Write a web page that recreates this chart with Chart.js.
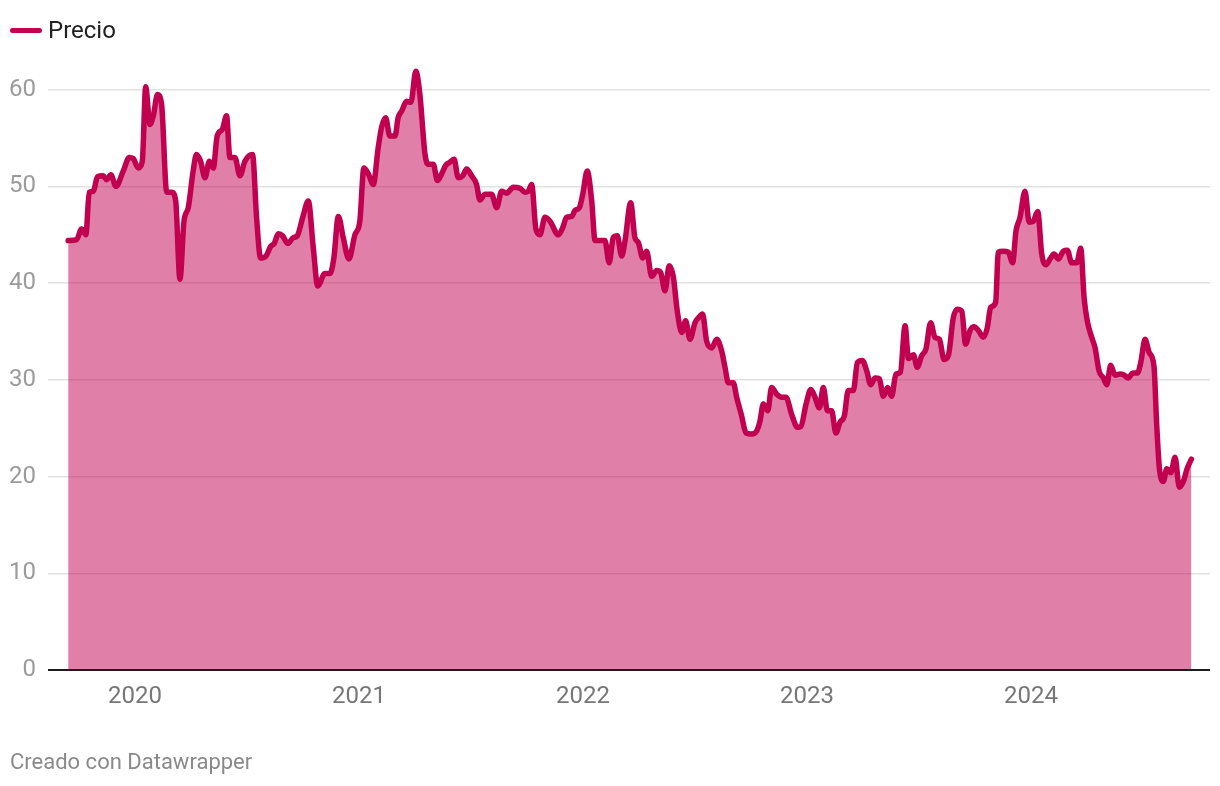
<!DOCTYPE html>
<html>
<head>
<meta charset="utf-8">
<script src="https://cdn.jsdelivr.net/npm/chart.js@4.4.1/dist/chart.umd.min.js"></script>
<style>
  html, body { margin: 0; padding: 0; background: #fff; }
  body { width: 1220px; height: 786px; position: relative; overflow: hidden; font-family: Roboto, "Noto Sans", sans-serif; }
  #wrap { position: absolute; left: 0; top: 0; width: 1220px; height: 786px; }
  #legend { position: absolute; left: 10px; top: 17px; height: 26px; display: flex; align-items: center; }
  #legend .sw { width: 32px; height: 5px; border-radius: 3px; background: rgb(193,0,79); margin-right: 6px; }
  #legend .tx { font-size: 24px; color: #222; line-height: 26px; }
  #footer { position: absolute; left: 10px; top: 749px; font-size: 22px; color: #8a8a8a; line-height: 26px; }
</style>
</head>
<body>
<div id="wrap"><canvas id="c" width="1220" height="786"></canvas></div>
<div id="legend"><span class="sw"></span><span class="tx">Precio</span></div>
<div id="footer">Creado con Datawrapper</div>
<script>
// Fechas (años decimales) y precios
const fechas = [
  2019.702, 2019.740, 2019.762, 2019.781, 2019.796, 2019.814, 2019.833, 2019.858, 2019.874, 2019.893,
  2019.915, 2019.948, 2019.975, 2019.992, 2020.015, 2020.033, 2020.048, 2020.067, 2020.082, 2020.101,
  2020.119, 2020.142, 2020.164, 2020.182, 2020.201, 2020.219, 2020.238, 2020.260, 2020.275, 2020.293,
  2020.313, 2020.332, 2020.350, 2020.367, 2020.390, 2020.409, 2020.424, 2020.446, 2020.469, 2020.491,
  2020.525, 2020.543, 2020.561, 2020.585, 2020.606, 2020.622, 2020.640, 2020.659, 2020.682, 2020.707,
  2020.725, 2020.749, 2020.774, 2020.796, 2020.816, 2020.848, 2020.871, 2020.888, 2020.908, 2020.930,
  2020.955, 2020.982, 2021.004, 2021.022, 2021.042, 2021.064, 2021.086, 2021.101, 2021.119, 2021.138,
  2021.161, 2021.175, 2021.191, 2021.213, 2021.232, 2021.254, 2021.272, 2021.295, 2021.309, 2021.332,
  2021.350, 2021.369, 2021.388, 2021.406, 2021.425, 2021.443, 2021.463, 2021.481, 2021.503, 2021.525,
  2021.540, 2021.563, 2021.592, 2021.615, 2021.637, 2021.659, 2021.689, 2021.719, 2021.741, 2021.756,
  2021.771, 2021.790, 2021.808, 2021.830, 2021.853, 2021.890, 2021.909, 2021.927, 2021.950, 2021.964,
  2021.984, 2021.999, 2022.019, 2022.039, 2022.054, 2022.076, 2022.098, 2022.117, 2022.135, 2022.153,
  2022.173, 2022.188, 2022.213, 2022.232, 2022.247, 2022.267, 2022.284, 2022.307, 2022.329, 2022.347,
  2022.366, 2022.385, 2022.403, 2022.421, 2022.441, 2022.458, 2022.478, 2022.500, 2022.515, 2022.534,
  2022.552, 2022.575, 2022.597, 2022.619, 2022.634, 2022.649, 2022.671, 2022.686, 2022.708, 2022.728,
  2022.753, 2022.775, 2022.790, 2022.805, 2022.825, 2022.842, 2022.865, 2022.887, 2022.906, 2022.932,
  2022.957, 2022.973, 2022.996, 2023.017, 2023.036, 2023.055, 2023.073, 2023.091, 2023.110, 2023.129,
  2023.147, 2023.167, 2023.184, 2023.207, 2023.225, 2023.247, 2023.267, 2023.284, 2023.304, 2023.323,
  2023.341, 2023.360, 2023.378, 2023.397, 2023.417, 2023.438, 2023.453, 2023.475, 2023.492, 2023.512,
  2023.531, 2023.552, 2023.571, 2023.591, 2023.612, 2023.631, 2023.653, 2023.671, 2023.691, 2023.708,
  2023.728, 2023.746, 2023.765, 2023.787, 2023.805, 2023.820, 2023.842, 2023.854, 2023.876, 2023.899,
  2023.918, 2023.933, 2023.951, 2023.973, 2023.992, 2024.010, 2024.030, 2024.048, 2024.067, 2024.085,
  2024.103, 2024.122, 2024.144, 2024.162, 2024.182, 2024.204, 2024.222, 2024.237, 2024.251, 2024.271,
  2024.286, 2024.304, 2024.323, 2024.338, 2024.356, 2024.375, 2024.397, 2024.415, 2024.434, 2024.454,
  2024.475, 2024.490, 2024.509, 2024.528, 2024.549, 2024.561, 2024.573, 2024.591, 2024.606, 2024.624,
  2024.643, 2024.662, 2024.680, 2024.698, 2024.716
];
const precios = [
  44.4, 44.5, 45.6, 45.0, 49.4, 49.5, 51.0, 51.1, 50.7, 51.2,
  50.0, 51.6, 53.0, 52.9, 51.9, 52.6, 60.3, 56.4, 57.3, 59.5,
  58.5, 49.4, 49.4, 48.5, 40.4, 46.4, 47.8, 51.6, 53.3, 52.6,
  50.9, 52.6, 51.9, 55.2, 55.9, 57.3, 53.0, 53.0, 51.1, 52.6,
  53.3, 46.8, 42.6, 42.8, 43.8, 44.1, 45.1, 44.9, 44.1, 44.7,
  44.9, 46.8, 48.5, 43.7, 39.7, 41.0, 41.0, 42.6, 46.9, 44.7,
  42.5, 45.0, 46.4, 51.9, 51.3, 50.2, 54.0, 56.1, 57.1, 55.2,
  55.2, 57.1, 57.8, 58.8, 58.7, 61.9, 59.5, 53.3, 52.3, 52.3,
  50.6, 51.3, 52.2, 52.5, 52.8, 50.9, 51.1, 51.8, 51.1, 50.2,
  48.6, 49.2, 49.2, 47.8, 49.5, 49.3, 49.9, 49.8, 49.4, 49.5,
  50.2, 45.6, 45.0, 46.8, 46.4, 45.0, 45.7, 46.8, 46.9, 47.5,
  47.8, 49.2, 51.6, 48.5, 44.4, 44.4, 44.4, 42.1, 44.7, 44.9,
  42.8, 44.4, 48.3, 44.7, 44.2, 42.6, 43.3, 40.7, 41.3, 41.1,
  39.2, 41.8, 40.7, 37.1, 34.9, 36.1, 34.2, 35.9, 36.4, 36.8,
  34.0, 33.3, 34.2, 33.0, 31.3, 29.7, 29.7, 28.2, 26.3, 24.5,
  24.4, 24.7, 25.7, 27.5, 26.8, 29.2, 28.5, 28.2, 28.2, 26.4,
  25.1, 25.2, 27.5, 29.0, 28.2, 27.1, 29.2, 26.8, 26.8, 24.5,
  25.6, 26.3, 28.9, 28.9, 31.8, 32.0, 30.9, 29.5, 30.2, 30.1,
  28.3, 29.2, 28.3, 30.6, 30.8, 35.6, 32.2, 32.6, 31.3, 32.5,
  33.2, 35.9, 34.4, 34.2, 32.1, 32.5, 36.4, 37.3, 37.1, 33.7,
  35.1, 35.5, 35.1, 34.4, 35.4, 37.5, 38.0, 43.2, 43.3, 43.2,
  42.1, 45.4, 46.8, 49.5, 46.3, 46.4, 47.4, 43.0, 41.9, 42.5,
  43.0, 42.5, 43.3, 43.4, 42.1, 42.1, 43.6, 38.5, 36.1, 34.4,
  33.3, 30.9, 30.2, 29.5, 31.5, 30.5, 30.6, 30.5, 30.2, 30.7,
  30.7, 31.8, 34.2, 32.8, 31.4, 25.4, 20.9, 19.5, 20.8, 20.4,
  22.0, 18.9, 19.5, 20.9, 21.8
];
const yTicks = [0, 10, 20, 30, 40, 50, 60];
const xTicks = [2020, 2021, 2022, 2023, 2024];
const xLabels = ["2020", "2021", "2022", "2023", "2024"];

const lineColor = 'rgb(193,0,79)';
const fillColor = 'rgba(193,0,79,0.5)';

const points = fechas.map((f, i) => ({ x: f, y: precios[i] }));

const baseline = {
  id: 'baseline',
  afterDatasetsDraw(chart) {
    const { ctx, chartArea, scales } = chart;
    const y0 = scales.y.getPixelForValue(0);
    ctx.save();
    ctx.strokeStyle = '#1d1d1d';
    ctx.lineWidth = 2;
    ctx.beginPath();
    ctx.moveTo(chartArea.left, y0);
    ctx.lineTo(chartArea.right, y0);
    ctx.stroke();
    ctx.restore();
  }
};

new Chart(document.getElementById('c'), {
  type: 'line',
  data: {
    datasets: [{
      label: 'Precio',
      data: points,
      borderColor: lineColor,
      backgroundColor: fillColor,
      borderWidth: 5.5,
      fill: 'origin',
      pointRadius: 0,
      cubicInterpolationMode: 'monotone',
      borderJoinStyle: 'round',
      borderCapStyle: 'round'
    }]
  },
  options: {
    responsive: false,
    animation: false,
    events: [],
    layout: { padding: { top: 51, left: 0, right: 10, bottom: 0 } },
    plugins: { legend: { display: false }, tooltip: { enabled: false } },
    scales: {
      x: {
        type: 'linear',
        min: 2019.612,
        max: 2024.799,
        grid: { display: false, drawTicks: false },
        border: { display: false },
        afterBuildTicks: (s) => { s.ticks = xTicks.map(v => ({ value: v })); },
        afterFit: (s) => { s.height = 116; },
        ticks: {
          padding: 13,
          autoSkip: false,
          maxRotation: 0,
          color: '#777',
          font: { family: 'Roboto', size: 24 },
          callback: (v) => xLabels[xTicks.indexOf(v)]
        }
      },
      y: {
        type: 'linear',
        min: 0,
        max: 64,
        grid: { color: '#e1e1e1', lineWidth: 1.5, drawTicks: false },
        border: { display: false },
        afterBuildTicks: (s) => { s.ticks = yTicks.map(v => ({ value: v })); },
        afterFit: (s) => { s.width = 48; },
        ticks: {
          padding: 12,
          color: '#9b9b9b',
          font: { family: 'Roboto', size: 24 }
        }
      }
    }
  },
  plugins: [baseline]
});
</script>
</body>
</html>
